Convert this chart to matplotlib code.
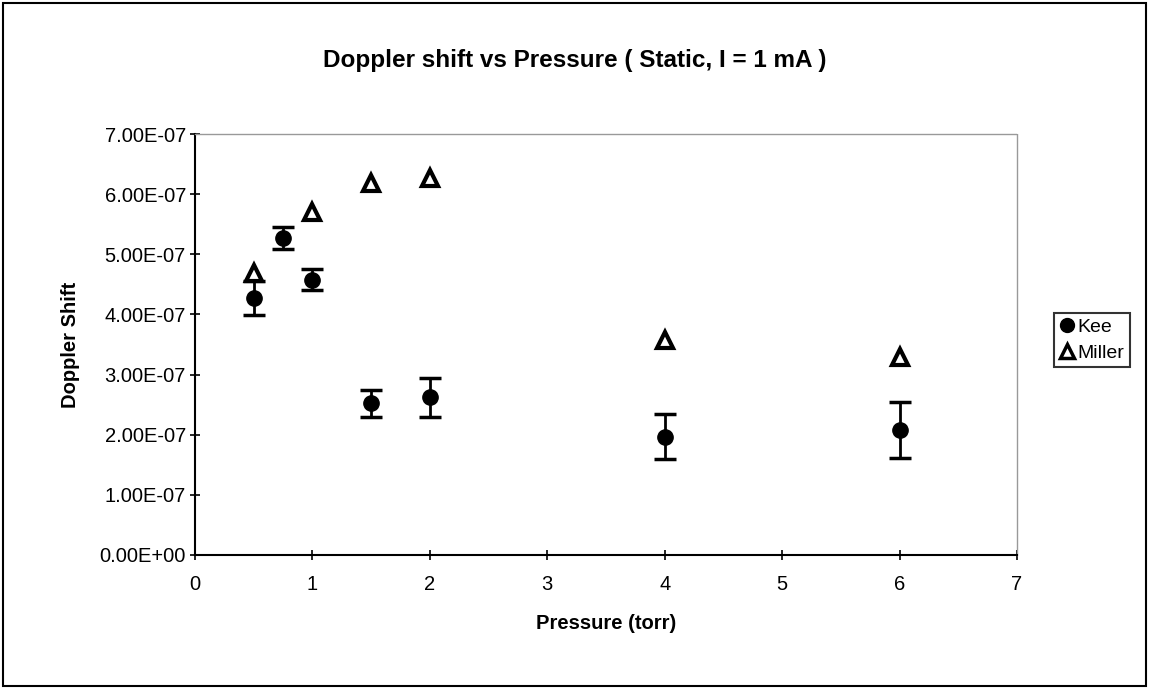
import matplotlib
matplotlib.use('Agg')
from matplotlib import pyplot as plt
from matplotlib.patches import Rectangle
from matplotlib.lines import Line2D

plt.rcParams['font.family'] = ['Liberation Sans', 'DejaVu Sans']

# Kee data (with error bars)
kee_p = [0.5, 0.75, 1.0, 1.5, 2.0, 4.0, 6.0]
kee_shift = [4.27e-7, 5.27e-7, 4.58e-7, 2.52e-7, 2.62e-7, 1.97e-7, 2.08e-7]
kee_err = [0.28e-7, 0.18e-7, 0.17e-7, 0.23e-7, 0.32e-7, 0.37e-7, 0.46e-7]

# Miller data
miller_p = [0.5, 1.0, 1.5, 2.0, 4.0, 6.0]
miller_shift = [4.69e-7, 5.71e-7, 6.18e-7, 6.27e-7, 3.58e-7, 3.29e-7]

yticks = [0, 1e-7, 2e-7, 3e-7, 4e-7, 5e-7, 6e-7, 7e-7]
ytick_labels = ['0.00E+00', '1.00E-07', '2.00E-07', '3.00E-07',
                '4.00E-07', '5.00E-07', '6.00E-07', '7.00E-07']

fig = plt.figure(figsize=(11.49, 6.89), dpi=100)
ax = fig.add_axes([195/1149, 1 - 555/689, (1017-195)/1149, (555-134)/689])

ax.errorbar(kee_p, kee_shift, yerr=kee_err, fmt='o', color='black',
            markersize=11, elinewidth=2, capsize=8, capthick=2.5, zorder=3)
ax.plot(miller_p, miller_shift, '^', markersize=11, markerfacecolor='white',
        markeredgecolor='black', markeredgewidth=3, linestyle='none', zorder=4)

ax.set_xlim(0, 7)
ax.set_ylim(0, 7e-7)
ax.set_xticks(range(0, 8))
ax.set_yticks(yticks)
ax.set_yticklabels(ytick_labels)
ax.tick_params(direction='inout', length=7, width=1.2, labelsize=14.5)
ax.tick_params(axis='x', pad=11)
ax.tick_params(axis='y', pad=3)

for side in ['left', 'bottom']:
    ax.spines[side].set_linewidth(1.5)
for side in ['top', 'right']:
    ax.spines[side].set_color('#999999')
    ax.spines[side].set_linestyle((0, (1, 1)))
    ax.spines[side].set_linewidth(1)

ax.set_xlabel('Pressure (torr)', fontsize=14.5, fontweight='bold', labelpad=14)
ax.set_ylabel('Doppler Shift', fontsize=14.5, fontweight='bold', labelpad=14)

fig.text(0.5, 1 - 60/689, 'Doppler shift vs Pressure ( Static, I = 1 mA )',
         ha='center', va='center', fontsize=17.5, fontweight='bold')

handles = [Line2D([], [], marker='o', color='black', linestyle='none', markersize=10),
           Line2D([], [], marker='^', markerfacecolor='white', markeredgecolor='black',
                  markeredgewidth=2.5, linestyle='none', markersize=10)]
leg = fig.legend(handles, ['Kee', 'Miller'], loc='center',
                 bbox_to_anchor=(1092/1149, 1 - 340/689),
                 fontsize=14, frameon=True, fancybox=False, handlelength=0.7,
                 handletextpad=0.2, borderpad=0.3, labelspacing=0.4,
                 borderaxespad=0)
leg.get_frame().set_edgecolor('black')
leg.get_frame().set_linewidth(1.5)

# outer chart border
fig.patches.append(Rectangle((3/1149, 3/689), 1143/1149, 683/689,
                             transform=fig.transFigure, fill=False,
                             edgecolor='black', linewidth=1.5))

fig.savefig('out.png', dpi=100)
